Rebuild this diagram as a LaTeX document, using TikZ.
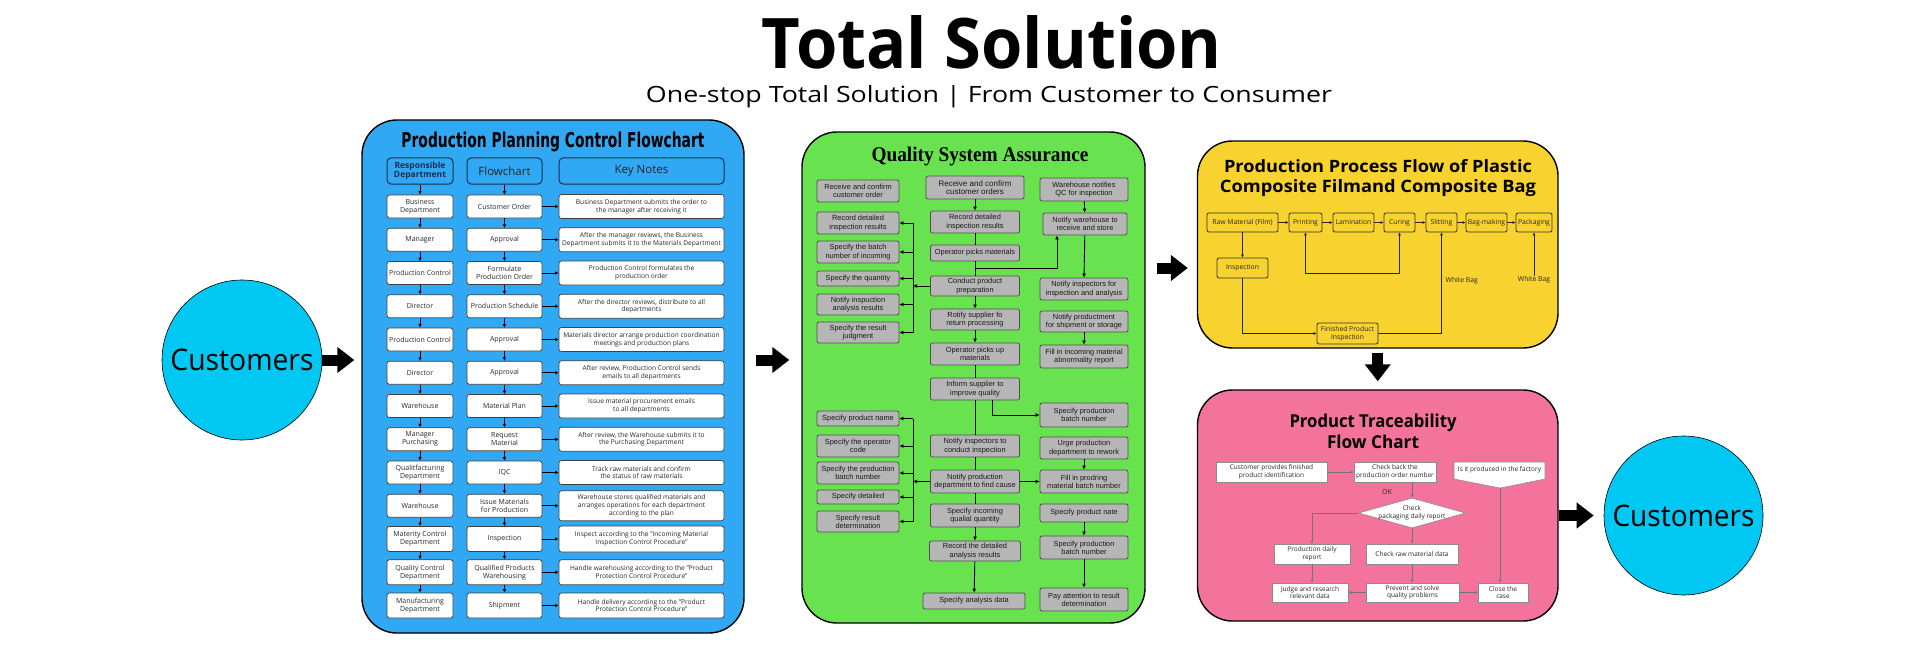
\documentclass[tikz,border=0pt]{standalone}
\usepackage{fontspec}
\setmainfont{Open Sans}
\newfontfamily\djsans{DejaVu Sans}
\newfontfamily\serifb{Liberation Serif}
\newfontfamily\arialf{Liberation Sans}
\usepackage{graphicx}
\usetikzlibrary{arrows.meta,shapes.geometric,calc}
\definecolor{bluep}{RGB}{48,168,243}
\definecolor{greenp}{RGB}{104,226,78}
\definecolor{yellowp}{RGB}{248,210,47}
\definecolor{pinkp}{RGB}{243,115,157}
\definecolor{cyanc}{RGB}{0,200,243}
\definecolor{navy}{RGB}{27,47,80}
\definecolor{ggray}{RGB}{182,182,182}
\definecolor{gborder}{RGB}{80,80,80}
\definecolor{txtd}{RGB}{40,40,40}
\begin{document}
\begin{tikzpicture}[x=1pt,y=-1pt,
  panel/.style={draw=black, line width=1.4pt, rounded corners=35pt, inner sep=0pt},
  big/.style={line width=11pt, -{Triangle[length=17pt,width=25pt]}},
  hbox/.style={draw=navy, line width=1pt, rounded corners=4pt, fill=bluep, minimum height=26pt, align=center, inner sep=1pt, text=navy},
  bbox/.style={draw=black!75, fill=white, rounded corners=2.5pt, line width=0.7pt, inner sep=1pt, align=center, text=txtd, font=\fontsize{7}{8}\selectfont, minimum height=23pt},
  lcol/.style={bbox, minimum width=66pt},
  mcol/.style={bbox, minimum width=75pt},
  kcol/.style={bbox, minimum width=165pt, font=\fontsize{6.6}{7.6}\selectfont, minimum height=24pt},
  barr/.style={-{Latex[length=3.5pt,width=3.5pt]}, line width=0.8pt, black},
  gbox/.style={draw=gborder, fill=ggray, rounded corners=2pt, line width=0.8pt, inner sep=0.5pt, align=center, font=\arialf\fontsize{7.4}{8.2}\selectfont, text=black!90},
  garr/.style={-{Latex[length=4pt,width=4pt]}, line width=0.9pt, black},
  gline/.style={line width=0.9pt, black},
  ybox/.style={draw=black!80, rounded corners=2pt, line width=0.8pt, inner sep=0.5pt, align=center, font=\fontsize{6.8}{7.8}\selectfont, minimum height=19pt, text=black!85},
  yarr/.style={-{Latex[length=3pt,width=3pt]}, line width=0.7pt, black!85},
  ylab/.style={inner sep=0.5pt, font=\fontsize{6.8}{7.8}\selectfont, text=black!85},
  pbox/.style={draw=black!45, fill=white, line width=0.6pt, inner sep=0.5pt, align=center, font=\fontsize{6.5}{7.5}\selectfont, text=black!85},
  parr/.style={-{Latex[length=3pt,width=3pt]}, line width=0.6pt, draw=black!55}
]
\useasboundingbox (0,0) rectangle (1920,650);
\fill[white] (0,0) rectangle (1920,650);

% titles
\node[anchor=base, inner sep=0pt] (title) at (992,69) {\resizebox{460pt}{53pt}{\bfseries Total Solution}};
\node[anchor=base, inner sep=0pt] (subtitle) at (989,103) {\resizebox{686pt}{17pt}{One-stop Total Solution | From Customer to Consumer}};

% customers
\node[circle, draw=black, line width=0.6pt, fill=cyanc, minimum size=160pt, inner sep=0pt] (c1) at (242,360) {\resizebox{143pt}{21.5pt}{Customers}};
\node[circle, draw=black, line width=0.6pt, fill=cyanc, minimum size=159pt, inner sep=0pt] (c2) at (1683.5,515.5) {\resizebox{142pt}{21.5pt}{Customers}};

% panels
\node[panel, fill=bluep, minimum width=382pt, minimum height=513pt] (blue) at (553,376.5) {};
\node[panel, fill=greenp, minimum width=343pt, minimum height=491pt] (green) at (973.5,377.5) {};
\node[panel, fill=yellowp, minimum width=360.5pt, minimum height=207pt] (yellow) at (1377.75,244.5) {};
\node[panel, fill=pinkp, minimum width=360.5pt, minimum height=231pt] (pink) at (1377.75,505.5) {};

% big arrows
\coordinate (a3) at (1170,268);
\draw[big, shorten >=7pt] (c1.east) -- (c1.east -| blue.west);
\draw[big, shorten <=11pt, shorten >=12pt] (blue.east |- c1) -- (green.west |- c1);
\draw[big, shorten <=11pt, shorten >=9pt] (green.east |- a3) -- (yellow.west |- a3);
\draw[big, shorten <=4pt, shorten >=8pt] (yellow.south) -- (pink.north);
\draw[big, shorten >=10pt] (pink.east |- c2) -- (c2.west);

% ===== blue panel =====
\node[anchor=base, inner sep=0pt] (btitle) at (553,147.5) {\resizebox{303pt}{15.5pt}{\djsans\bfseries Production Planning Control Flowchart}};
\node[hbox, minimum width=66pt, font=\fontsize{8.5}{9.5}\selectfont\bfseries] (hl) at (420,171) {Responsible\\Department};
\node[hbox, minimum width=75pt, font=\fontsize{11.5}{12}\selectfont, text=black!85] (hm) at (504.5,171) {Flowchart};
\node[hbox, minimum width=165pt, font=\fontsize{11.5}{12}\selectfont, text=black!85] (hk) at (641.5,171) {Key Notes};

\node[lcol] (bl1) at (420,206.5) {Business\\Department};
\node[mcol] (bm1) at (504.5,206.5) {Customer Order};
\node[kcol] (bk1) at (641.5,206.5) {Business Department submits the order to\\the manager after receiving it};

\node[lcol] (bl2) at (420,239.75) {Manager};
\node[mcol] (bm2) at (504.5,239.75) {Approval};
\node[kcol] (bk2) at (641.5,239.75) {After the manager reviews, the Business\\Department submits it to the Materials Department};

\node[lcol] (bl3) at (420,273) {Production Control};
\node[mcol] (bm3) at (504.5,273) {Formulate\\Production Order};
\node[kcol] (bk3) at (641.5,273) {Production Control formulates the\\production order};

\node[lcol] (bl4) at (420,306.25) {Director};
\node[mcol] (bm4) at (504.5,306.25) {Production Schedule};
\node[kcol] (bk4) at (641.5,306.25) {After the director reviews, distribute to all\\departments};

\node[lcol] (bl5) at (420,339.5) {Production Control};
\node[mcol] (bm5) at (504.5,339.5) {Approval};
\node[kcol] (bk5) at (641.5,339.5) {Materials director arrange production coordination\\meetings and production plans};

\node[lcol] (bl6) at (420,372.75) {Director};
\node[mcol] (bm6) at (504.5,372.75) {Approval};
\node[kcol] (bk6) at (641.5,372.75) {After review, Production Control sends\\emails to all departments};

\node[lcol] (bl7) at (420,406) {Warehouse};
\node[mcol] (bm7) at (504.5,406) {Material Plan};
\node[kcol] (bk7) at (641.5,406) {Issue material procurement emails\\to all departments};

\node[lcol] (bl8) at (420,439.25) {Manager\\Purchasing};
\node[mcol] (bm8) at (504.5,439.25) {Request\\Material};
\node[kcol] (bk8) at (641.5,439.25) {After review, the Warehouse submits it to\\the Purchasing Department};

\node[lcol] (bl9) at (420,472.5) {Qualitfacturing\\Department};
\node[mcol] (bm9) at (504.5,472.5) {IQC};
\node[kcol] (bk9) at (641.5,472.5) {Track raw materials and confirm\\the status of raw materials};

\node[lcol] (bl10) at (420,505.75) {Warehouse};
\node[mcol] (bm10) at (504.5,505.75) {Issue Materials\\for Production};
\node[kcol, minimum height=30pt] (bk10) at (641.5,505.75) {Warehouse stores qualified materials and\\arranges operations for each department\\according to the plan};

\node[lcol, minimum height=25pt] (bl11) at (420,539) {Materity Control\\Department};
\node[mcol, minimum height=25pt] (bm11) at (504.5,539) {Inspection};
\node[kcol, minimum height=26pt] (bk11) at (641.5,539) {Inspect according to the "Incoming Material\\Inspection Control Procedure"};

\node[lcol, minimum height=25pt] (bl12) at (420,572.25) {Quality Control\\Department};
\node[mcol, minimum height=25pt] (bm12) at (504.5,572.25) {Qualified Products\\Warehousing};
\node[kcol, minimum height=25pt] (bk12) at (641.5,572.25) {Handle warehousing according to the "Product\\Protection Control Procedure"};

\node[lcol, minimum height=25pt] (bl13) at (420,605.5) {Manufacturing\\Department};
\node[mcol, minimum height=25pt] (bm13) at (504.5,605.5) {Shipment};
\node[kcol, minimum height=25pt] (bk13) at (641.5,605.5) {Handle delivery according to the "Product\\Protection Control Procedure"};

\draw[barr] (hl) -- (bl1);
\draw[barr] (hm) -- (bm1);
\foreach \a/\b in {1/2,2/3,3/4,4/5,5/6,6/7,7/8,8/9,9/10,10/11,11/12,12/13}{
  \draw[barr] (bl\a) -- (bl\b);
  \draw[barr] (bm\a) -- (bm\b);
}
\foreach \i in {1,...,13}{\draw[barr] (bm\i) -- (bk\i);}

% ===== green panel =====
\node[anchor=base, inner sep=0pt] (gtitle) at (980,161.3) {\resizebox{217pt}{14.5pt}{\serifb\bfseries Quality System Assurance}};

\node[gbox, minimum width=82pt, minimum height=22pt] (gl1) at (858,191) {Receive and confirm\\customer order};
\node[gbox, minimum width=82pt, minimum height=22pt] (gl2) at (858,223) {Record detailed\\inspection results};
\node[gbox, minimum width=82pt, minimum height=22pt] (gl3) at (858,252) {Specify the batch\\number of incoming};
\node[gbox, minimum width=82pt, minimum height=15pt] (gl4) at (858,278.5) {Specify the quantity};
\node[gbox, minimum width=82pt, minimum height=21pt] (gl5) at (858,304.5) {Notify inspuction\\analysis results};
\node[gbox, minimum width=82pt, minimum height=21pt] (gl6) at (858,332.5) {Specify the result\\judgment};
\node[gbox, minimum width=82pt, minimum height=15pt] (gl7) at (858,418.5) {Specify product name};
\node[gbox, minimum width=82pt, minimum height=22pt] (gl8) at (858,446) {Specify the operator\\code};
\node[gbox, minimum width=82pt, minimum height=22pt] (gl9) at (858,473) {Specify the production\\batch number};
\node[gbox, minimum width=82pt, minimum height=14pt] (gl10) at (858,497) {Specify detailed};
\node[gbox, minimum width=82pt, minimum height=21pt] (gl11) at (858,521.5) {Specify result\\determination};

\node[gbox, minimum width=98pt, minimum height=23pt, font=\arialf\fontsize{8}{8.6}\selectfont] (gm1) at (975,187.5) {Receive and confirm\\customer orders};
\node[gbox, minimum width=89pt, minimum height=22pt] (gm2) at (975,222) {Record detailed\\inspection results};
\node[gbox, minimum width=89pt, minimum height=16pt] (gm3) at (975,253) {Operator picks materials};
\node[gbox, minimum width=89pt, minimum height=20pt] (gm4) at (975,286) {Conduct product\\preparation};
\node[gbox, minimum width=89pt, minimum height=21pt] (gm5) at (975,319.5) {Rotify supplier fo\\return processing};
\node[gbox, minimum width=89pt, minimum height=22pt] (gm6) at (975,354) {Operator picks up\\materials};
\node[gbox, minimum width=89pt, minimum height=22pt] (gm7) at (975,389) {Inform supplier to\\improve quality};
\node[gbox, minimum width=89pt, minimum height=22pt] (gm8) at (975,446) {Notify inspectors to\\conduct inspection};
\node[gbox, minimum width=89pt, minimum height=23pt] (gm9) at (975,481.5) {Notify production\\department to find cause};
\node[gbox, minimum width=89pt, minimum height=23pt] (gm10) at (975,515.5) {Specify incoming\\qualial quantity};
\node[gbox, minimum width=91pt, minimum height=20pt] (gm11) at (975,551) {Record the detailed\\analysis results};
\node[gbox, minimum width=102pt, minimum height=16pt] (gm12) at (974,601) {Specify analysis data};

\node[gbox, minimum width=88pt, minimum height=23pt] (gr1) at (1084,189.5) {Warehouse notifies\\QC for inspection};
\node[gbox, minimum width=84pt, minimum height=22pt] (gr2) at (1085,224) {Notify warehouse to\\receive and store};
\node[gbox, minimum width=88pt, minimum height=22pt] (gr3) at (1084,289) {Notify inspectors for\\inspection and analysis};
\node[gbox, minimum width=88pt, minimum height=21pt] (gr4) at (1084,321.5) {Notify productment\\for shipment or storage};
\node[gbox, minimum width=88pt, minimum height=23pt] (gr5) at (1084,356.5) {Fill in incoming material\\abnormality report};
\node[gbox, minimum width=88pt, minimum height=24pt] (gr6) at (1084,415) {Specify production\\batch number};
\node[gbox, minimum width=88pt, minimum height=22pt] (gr7) at (1084,448) {Urge production\\department to rework};
\node[gbox, minimum width=88pt, minimum height=23pt] (gr8) at (1084,481.5) {Fill in prodring\\material batch number};
\node[gbox, minimum width=88pt, minimum height=18pt] (gr9) at (1084,513) {Specify product nate};
\node[gbox, minimum width=88pt, minimum height=23pt] (gr10) at (1084,547.5) {Specify production\\batch number};
\node[gbox, minimum width=88pt, minimum height=23pt] (gr11) at (1084,599.5) {Pay attention to result\\determination};

\coordinate (gbk) at (913,0);
\draw[garr] (gm1) -- (gm2);
\draw[gline] (gm2) -- (gm3);
\draw[gline] (gm3) -- (gm4);
\draw[garr] ($(gm3.south)!0.5!(gm4.north)$) -| ([xshift=-28pt]gr2.south);
\draw[garr] (gm4.west) -- (gm4.west -| gbk);
\draw[gline] (gbk |- gl2) -- (gbk |- gl6);
\foreach \n in {gl2,gl3,gl4,gl5,gl6}{\draw[garr] (gbk |- \n) -- (\n.east);}
\draw[garr] (gm4) -- (gm5);
\draw[garr] (gm5) -- (gm6);
\draw[gline] (gm6) -- (gm7);
\draw[gline] (gm7) -- (gm8);
\draw[gline] (gm8) -- (gm9);
\draw[gline] (gm9) -- (gm10);
\draw[garr] (gm10) -- (gm11);
\draw[garr] (gm11) -- (gm12);
\draw[garr] ([xshift=17pt]gm7.south) |- (gr6.west);
\draw[garr] (gm9.west) -- (gm9.west -| gbk);
\draw[gline] (gbk |- gl7) -- (gbk |- gl11);
\foreach \n in {gl7,gl8,gl9,gl10,gl11}{\draw[garr] (gbk |- \n) -- (\n.east);}
\draw[garr] (gm9) -- (gr8);
\draw[garr] (gr1) -- (gr2);
\draw[garr] (gr2) -- (gr3 |- gr3.north);
\draw[garr] (gr4) -- (gr5);
\draw[garr] (gr7) -- (gr8);
\draw[garr] (gr9) -- (gr10);
\draw[garr] (gr10) -- (gr11);

% ===== yellow panel =====
\node[anchor=base, inner sep=0pt] (yt1) at (1378,172.3) {\resizebox{308pt}{13pt}{\bfseries Production Process Flow of Plastic}};
\node[anchor=base, inner sep=0pt] (yt2) at (1378,192.3) {\resizebox{316pt}{13pt}{\bfseries Composite Filmand Composite Bag}};

\node[ybox, minimum width=71pt] (yraw) at (1242.5,222.5) {Raw Material (Film)};
\node[ybox, minimum width=33pt] (yprint) at (1305.5,222.5) {Printing};
\node[ybox, minimum width=41pt] (ylam) at (1353.5,222.5) {Lamination};
\node[ybox, minimum width=31pt] (ycur) at (1399.5,222.5) {Curing};
\node[ybox, minimum width=31pt] (yslit) at (1441.5,222.5) {Slitting};
\node[ybox, minimum width=41pt] (ybag) at (1486.5,222.5) {Bag-making};
\node[ybox, minimum width=36pt] (ypack) at (1534,222.5) {Packaging};
\node[ybox, minimum width=51pt, minimum height=20pt] (yinsp) at (1242.5,268) {Inspection};
\node[ybox, minimum width=61pt, minimum height=21pt] (yfpi) at (1347.5,333.5) {Finished Product\\Inspection};
\node[ylab, anchor=west] (ywb1) at (1445,281) {White Bag};
\node[ylab] (ywb2) at (1534,280) {White Bag};

\draw[yarr] (yraw) -- (yprint);
\draw[yarr] (yprint) -- (ylam);
\draw[yarr] (ylam) -- (ycur);
\draw[yarr] (ycur) -- (yslit);
\draw[yarr] (yslit) -- (ybag);
\draw[yarr] (ybag) -- (ypack);
\draw[yarr] (yraw) -- (yinsp);
\draw[yarr, {Latex[length=3pt,width=3pt]}-{Latex[length=3pt,width=3pt]}] (yprint.south) -- ++(0,41) -| (ycur.south);
\draw[yarr] (yinsp.south) |- (yfpi.west);
\draw[yarr] (yfpi.east) -| (yslit.south);
\draw[yarr] (ywb2.north) -- (ypack.south);

% ===== pink panel =====
\node[anchor=base, inner sep=0pt] (pt1) at (1373,427.7) {\resizebox{167pt}{13.5pt}{\bfseries Product Traceability}};
\node[anchor=base, inner sep=0pt] (pt2) at (1373,448.3) {\resizebox{92pt}{13.5pt}{\bfseries Flow Chart}};

\node[pbox, minimum width=111pt, minimum height=20pt] (pcpf) at (1271.5,472) {Customer provides finished\\product identification};
\node[pbox, minimum width=82pt, minimum height=20pt] (pcbp) at (1395,472) {Check back the\\production order number};
\filldraw[draw=black!45, fill=white, line width=0.6pt] (1454,462) -- (1545,462) -- (1545,479) -- (1500,488) -- (1454,479) -- cycle;
\node[inner sep=0pt, font=\fontsize{6.5}{7.5}\selectfont, text=black!85] (ppent) at (1499.5,469.5) {Is it produced in the factory};
\coordinate (ptip) at (1500,488);
\node[inner sep=0pt, font=\fontsize{7}{8}\selectfont, text=black!85] (pok) at (1387,492) {OK};
\node[diamond, draw=black!45, fill=white, line width=0.6pt, minimum width=107pt, minimum height=30pt, inner sep=0pt, aspect=3.5] (pdia) at (1412,513) {};
\node[inner sep=0pt, align=center, font=\fontsize{6.5}{7.5}\selectfont, text=black!85] (pdiat) at (1412,513) {Check\\packaging daily report};
\node[pbox, minimum width=76pt, minimum height=20pt] (ppdr) at (1312,554) {Production daily\\report};
\node[pbox, minimum width=92pt, minimum height=20pt] (pcrm) at (1412,554) {Check raw material data};
\node[pbox, minimum width=76pt, minimum height=19pt] (pjud) at (1310,592.5) {Judge and research\\relevant data};
\node[pbox, minimum width=93pt, minimum height=19pt] (ppre) at (1412.5,592.5) {Prevent and solve\\quality problems};
\node[pbox, minimum width=50pt, minimum height=19pt] (pclo) at (1503,592.5) {Close the\\case};

\draw[parr] (pcpf) -- (pcbp);
\draw[parr] (pcbp.south -| pdia.north) -- (pdia.north);
\draw[parr] (pdia.west) -| (ppdr.north);
\draw[parr] (pdia.south) -- (pcrm.north);
\draw[parr] (ppdr.south) -- (ppdr.south |- pjud.north);
\draw[parr] (pcrm.south) -- (ppre.north -| pcrm.south);
\draw[parr] (ppre) -- (pjud);
\draw[parr] (ppre) -- (pclo);
\draw[parr] (ptip) -- (ptip |- pclo.north);
\end{tikzpicture}
\end{document}
